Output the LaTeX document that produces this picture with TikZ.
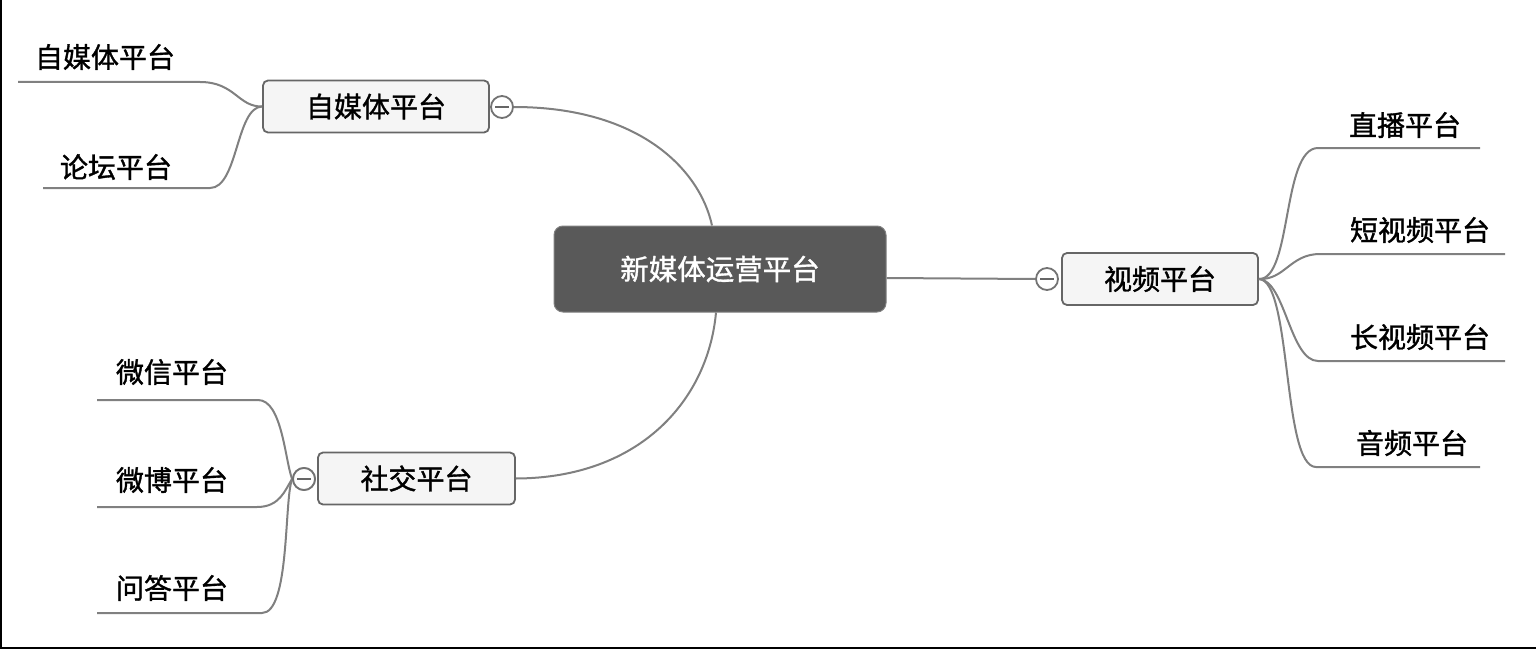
\documentclass[tikz,border=0pt]{standalone}
\usepackage{fontspec}
\newfontfamily\cjk{Noto Sans CJK SC}[FakeBold=1.2]
\begin{document}
\begin{tikzpicture}[x=1pt,y=-1pt,
  txt/.style={font=\cjk\fontsize{28}{30}\selectfont, text=black, inner sep=0pt},
  topic/.style={txt, draw=black!60, fill=gray!8, line width=1.8pt, rounded corners=5pt, minimum height=52pt},
  central/.style={font=\cjk\fontsize{28.5}{30}\selectfont, text=white, fill=black!65, draw=black!50, line width=1pt, rounded corners=9pt, minimum width=332pt, minimum height=86pt, inner sep=0pt},
  toggle/.style={circle, draw=black!55, fill=white, line width=1.8pt, minimum size=22pt, inner sep=0pt, path picture={\draw[black!60, line width=1.8pt] ([xshift=-7pt]path picture bounding box.center) -- ([xshift=7pt]path picture bounding box.center);}},
  conn/.style={draw=black!50, line width=2pt}
]
\useasboundingbox (0,0) rectangle (1536,650);
\fill[white] (0,0) rectangle (1536,650);
\draw[black, line width=2pt] (1,0) -- (1,648) -- (1536,648);

% main nodes
\node[central] (cen) at (720,269) {新媒体运营平台};
\node[topic, minimum width=226pt] (zmt) at (376,106.5) {自媒体平台};
\node[toggle] (zmtc) at (502,107) {};
\node[topic, minimum width=196pt] (sp) at (1160,279) {视频平台};
\node[toggle] (spc) at (1047,279) {};
\node[topic, minimum width=197pt] (sj) at (416.5,478.5) {社交平台};
\node[toggle] (sjc) at (304,479) {};

% main connectors
\draw[conn] (zmtc.east) .. controls (640,107) and (700,170) .. ([xshift=-8pt]cen.north);
\draw[conn] (sj.east) .. controls (640,478) and (708,400) .. ([xshift=-4pt]cen.south);
\draw[conn] ([yshift=-9pt]cen.east) -- (spc.west);

% leaves of 自媒体平台
\node[txt] (l1) at (105,57) {自媒体平台};
\node[txt] (l2) at (116,167) {论坛平台};
\coordinate (l1a) at (18,82); \coordinate (l1b) at (200,82);
\coordinate (l2a) at (43,188); \coordinate (l2b) at (210,188);
\draw[conn] (l1a) -- (l1b) .. controls (235,82) and (238,107) .. (zmt.west);
\draw[conn] (l2a) -- (l2b) .. controls (238,188) and (236,107) .. (zmt.west);

% leaves of 视频平台
\node[txt] (r1) at (1405,125) {直播平台};
\node[txt] (r2) at (1420,230) {短视频平台};
\node[txt] (r3) at (1420,337) {长视频平台};
\node[txt] (r4) at (1412,443) {音频平台};
\coordinate (r1a) at (1318,148); \coordinate (r1b) at (1480,148);
\coordinate (r2a) at (1320,254); \coordinate (r2b) at (1505,254);
\coordinate (r3a) at (1318,361); \coordinate (r3b) at (1505,361);
\coordinate (r4a) at (1316,467); \coordinate (r4b) at (1480,467);
\draw[conn] (sp.east) .. controls (1292,280) and (1282,148) .. (r1a) -- (r1b);
\draw[conn] (sp.east) .. controls (1285,280) and (1290,254) .. (r2a) -- (r2b);
\draw[conn] (sp.east) .. controls (1285,280) and (1290,361) .. (r3a) -- (r3b);
\draw[conn] (sp.east) .. controls (1292,280) and (1282,467) .. (r4a) -- (r4b);

% leaves of 社交平台
\node[txt] (s1) at (172,372) {微信平台};
\node[txt] (s2) at (172,480) {微博平台};
\node[txt] (s3) at (172,588) {问答平台};
\coordinate (s1a) at (97,400); \coordinate (s1b) at (258,400);
\coordinate (s2a) at (97,507); \coordinate (s2b) at (257,507);
\coordinate (s3a) at (97,613); \coordinate (s3b) at (262,613);
\draw[conn] (s1a) -- (s1b) .. controls (282,400) and (285,460) .. (sjc.west);
\draw[conn] (s2a) -- (s2b) .. controls (280,507) and (285,490) .. (sjc.west);
\draw[conn] (s3a) -- (s3b) .. controls (290,613) and (284,500) .. (sjc.west);
\node[toggle] at (sjc) {};
\end{tikzpicture}
\end{document}
